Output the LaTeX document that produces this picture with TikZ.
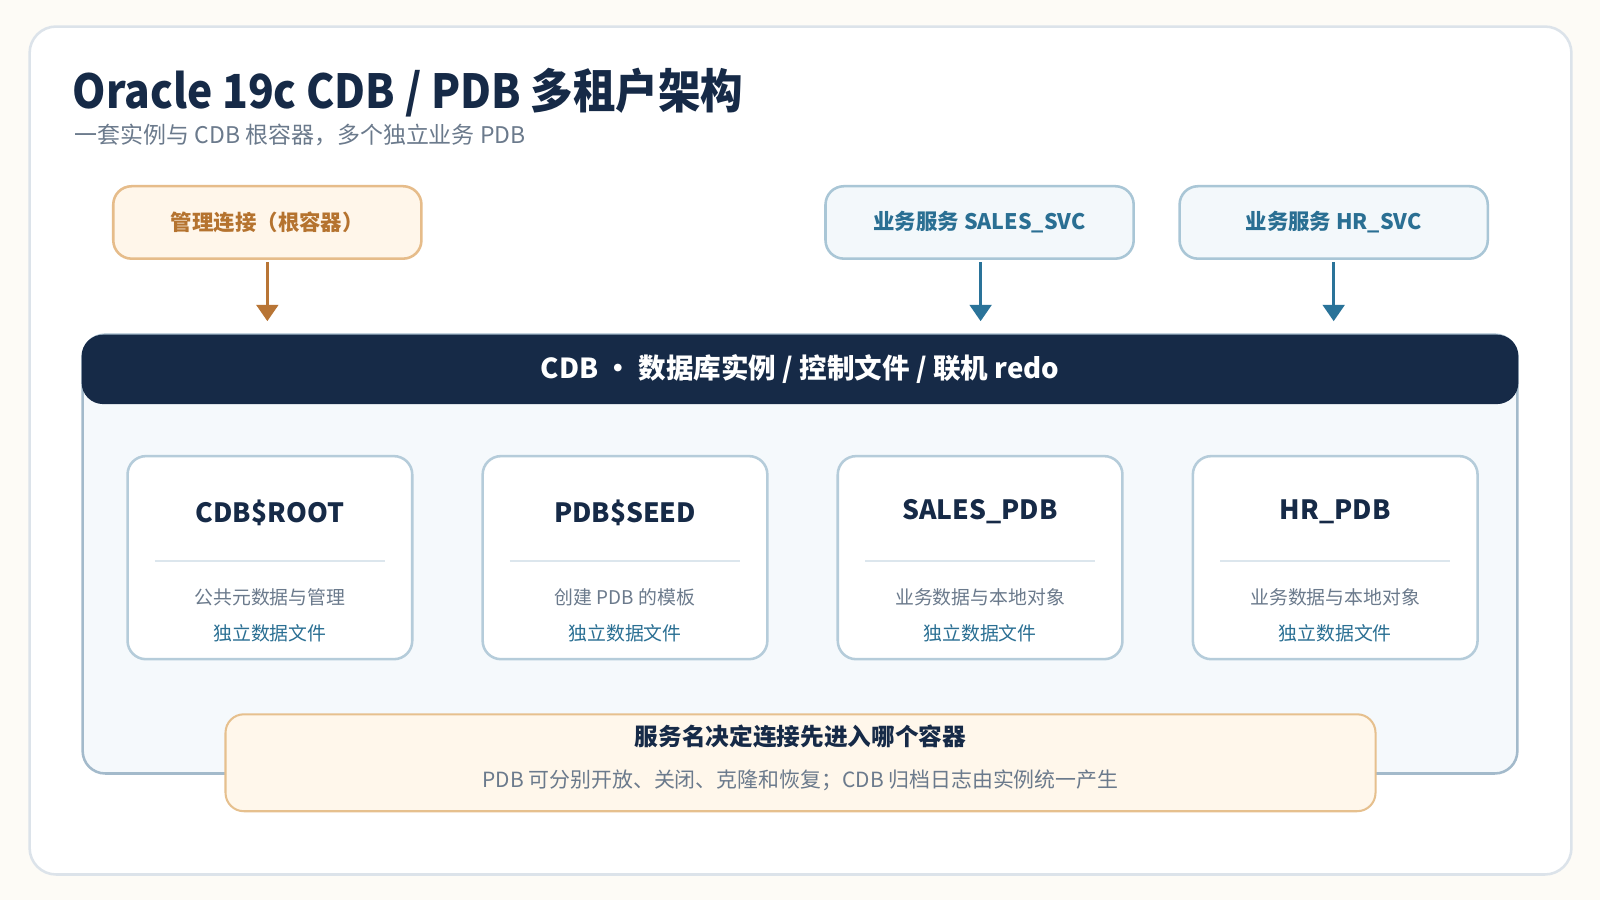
\documentclass[tikz,border=0pt]{standalone}
\usepackage{fontspec}
\setmainfont{Noto Sans CJK SC}
\newfontfamily\titlefont{Noto Sans CJK SC}[FakeStretch=0.906]
\usetikzlibrary{arrows.meta}
\definecolor{bgc}{HTML}{FDFBF6}
\definecolor{cardline}{HTML}{DCE3EA}
\definecolor{navy}{HTML}{162A47}
\definecolor{graytxt}{HTML}{6B7A8C}
\definecolor{admfill}{HTML}{FFF6EA}
\definecolor{admline}{HTML}{E6BC8A}
\definecolor{admtext}{HTML}{B5732F}
\definecolor{admarrow}{HTML}{B87535}
\definecolor{svcfill}{HTML}{F3F8FB}
\definecolor{svcline}{HTML}{A9C6D6}
\definecolor{svctext}{HTML}{2A6F93}
\definecolor{svcarrow}{HTML}{2A7399}
\definecolor{contfill}{HTML}{F5F9FC}
\definecolor{contline}{HTML}{A3BACB}
\definecolor{pdbline}{HTML}{B5CCDA}
\definecolor{divline}{HTML}{DCE6ED}
\definecolor{notefill}{HTML}{FFF7EB}
\definecolor{noteline}{HTML}{E6C08E}
\tikzset{
  topbox/.style={rounded corners=18pt, line width=2.5pt, minimum width=302pt, minimum height=71pt, inner sep=0pt, font=\bfseries\fontsize{21}{24}\selectfont},
  admbox/.style={topbox, fill=admfill, draw=admline, text=admtext},
  svcbox/.style={topbox, fill=svcfill, draw=svcline, text=svctext},
  conn/.style={line width=3.5pt, -{Triangle[width=21pt,length=16pt]}},
  pdbbox/.style={rounded corners=18pt, line width=2.5pt, draw=pdbline, fill=white, minimum width=279pt, minimum height=199pt, inner sep=0pt},
  pdbtitle/.style={anchor=base, inner sep=0pt, text=navy, font=\bfseries\fontsize{26}{30}\selectfont},
  pdbdesc/.style={inner sep=0pt, text=graytxt, font=\fontsize{18.5}{22}\selectfont},
  pdblink/.style={inner sep=0pt, text=svctext, font=\fontsize{18.5}{22}\selectfont},
}
\begin{document}
\begin{tikzpicture}[x=1pt,y=-1pt]
\fill[bgc] (0,0) rectangle (1568,882);
\useasboundingbox (0,0) rectangle (1568,882);
% card
\draw[fill=white, draw=cardline, line width=2.5pt, rounded corners=26pt] (29,26) rectangle (1540,857);
% title
\node[anchor=base west, inner sep=0pt, text=navy, font=\titlefont\bfseries\fontsize{46}{52}\selectfont] (title) at (71,106) {Oracle 19c CDB / PDB 多租户架构};
\node[anchor=west, inner sep=0pt, text=graytxt, font=\fontsize{22.5}{26}\selectfont] (subtitle) at (73,132) {一套实例与 CDB 根容器，多个独立业务 PDB};
% container
\node[draw=contline, fill=contfill, line width=2.5pt, rounded corners=22pt, minimum width=1406pt, minimum height=430pt, inner sep=0pt] (cdb) at (784,543) {};
\node[fill=navy, rounded corners=21pt, minimum width=1408pt, minimum height=68pt, inner sep=0pt, text=white, font=\bfseries\fontsize{27}{31}\selectfont] (hdr) at (784,362) {CDB ・ 数据库实例 / 控制文件 / 联机 redo};
% top boxes
\node[admbox] (adm) at (262,218) {管理连接（根容器）};
\node[svcbox] (sales) at (960,218) {业务服务 SALES\_SVC};
\node[svcbox] (hr) at (1307,218) {业务服务 HR\_SVC};
\draw[conn, admarrow] ([yshift=-2.5pt]adm.south) -- ([yshift=13pt]adm.south |- hdr.north);
\draw[conn, svcarrow] ([xshift=1pt,yshift=-2.5pt]sales.south) -- ([xshift=1pt,yshift=13pt]sales.south |- hdr.north);
\draw[conn, svcarrow] ([yshift=-2.5pt]hr.south) -- ([yshift=13pt]hr.south |- hdr.north);
% pdb boxes
\foreach \cx/\nm/\ttl/\base/\desc in {
  264.5/root/CDB\$ROOT/512/公共元数据与管理,
  612.5/seed/PDB\$SEED/512/创建 PDB 的模板,
  960.5/salespdb/SALES\_PDB/509/业务数据与本地对象,
  1308.5/hrpdb/HR\_PDB/509/业务数据与本地对象}{
  \node[pdbbox] (\nm) at (\cx,546.5) {};
  \node[pdbtitle] (\nm-t) at (\cx,\base) {\ttl};
  \draw[divline, line width=2pt] ([xshift=28pt]\nm.west |- 0,550) -- ([xshift=-28pt]\nm.east |- 0,550);
  \node[pdbdesc] (\nm-d) at (\cx,585.5) {\desc};
  \node[pdblink] (\nm-l) at (\cx,621) {独立数据文件};
}
% note
\node[draw=noteline, fill=notefill, line width=2pt, rounded corners=18pt, minimum width=1127pt, minimum height=95pt, inner sep=0pt] (note) at (784.5,747.5) {};
\node[inner sep=0pt, text=navy, font=\bfseries\fontsize{23.2}{27}\selectfont] (note-t) at (784.5,722) {服务名决定连接先进入哪个容器};
\node[inner sep=0pt, text=graytxt, font=\fontsize{20.5}{24}\selectfont] (note-s) at (784.5,764.5) {PDB 可分别开放、关闭、克隆和恢复；CDB 归档日志由实例统一产生};
\end{tikzpicture}
\end{document}
